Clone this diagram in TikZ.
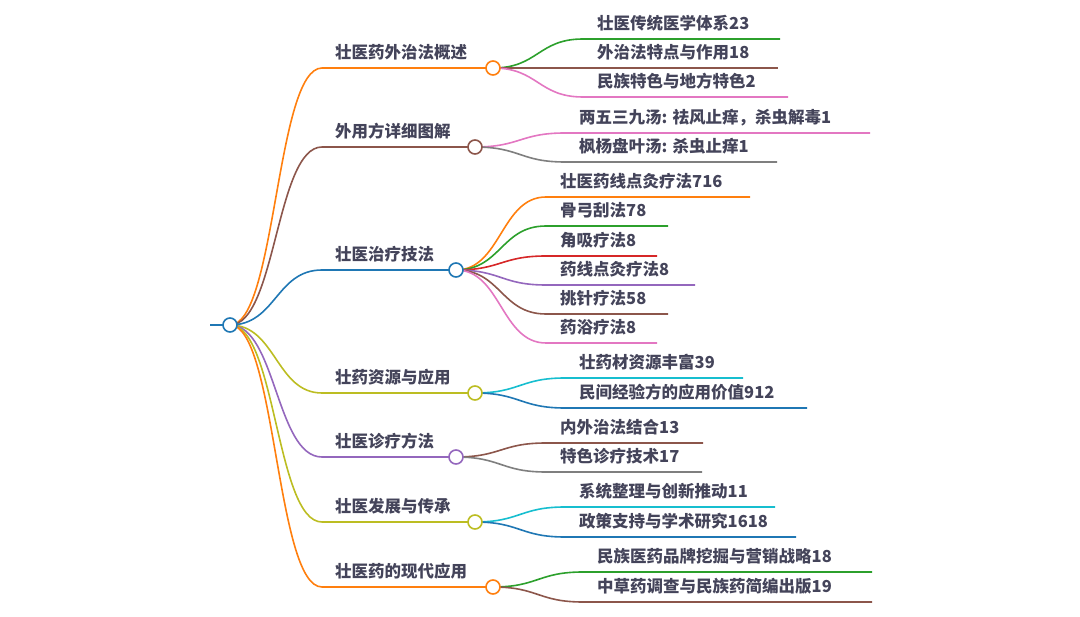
\documentclass[tikz,border=0pt]{standalone}
\usepackage{fontspec}
\newfontfamily\cjk{Noto Sans CJK SC}
\usetikzlibrary{backgrounds}
\definecolor{mBlue}{HTML}{1F77B4}
\definecolor{mOrange}{HTML}{FF7F0E}
\definecolor{mGreen}{HTML}{2CA02C}
\definecolor{mRed}{HTML}{D62728}
\definecolor{mPurple}{HTML}{9467BD}
\definecolor{mBrown}{HTML}{8C564B}
\definecolor{mPink}{HTML}{E377C2}
\definecolor{mGray}{HTML}{7F7F7F}
\definecolor{mOlive}{HTML}{BCBD22}
\definecolor{mCyan}{HTML}{17BECF}
\definecolor{txt}{HTML}{44445A}
\newcommand\mmtop[5]{%
  \node[dot=#4] (#1) at (#2,#3) {};
  \coordinate (#1s) at (322,#3);
  \node[lbl] (#1t) at (335,#3-9) {#5};
  \begin{scope}[on background layer]
    \draw[link=#4] (root.center) .. controls +(46,0) and +(-46,0) .. (#1s) -- (#1.center);
  \end{scope}}
\newcommand\mmkid[7]{%
  \coordinate (#2s) at (#3+90,#4);
  \coordinate (#2e) at (#5,#4);
  \node[lbl] (#2t) at (#3+104,#4-9) {#7};
  \begin{scope}[on background layer]
    \draw[link=#6] (#1.center) .. controls +(45,0) and +(-45,0) .. (#2s) -- (#2e);
  \end{scope}}
\begin{document}
\begin{tikzpicture}[x=1pt,y=-1pt,
  dot/.style={circle,draw=#1,fill=white,line width=1.6pt,minimum size=14pt,inner sep=0pt},
  lbl/.style={anchor=base west,inner sep=0pt,font=\cjk\bfseries\fontsize{16.5}{18}\selectfont,text=txt},
  link/.style={draw=#1,line width=1.6pt}]
\useasboundingbox (0,0) rectangle (1080,617);
\node[dot=mBlue] (root) at (230,325) {};
\coordinate (r0) at (210,325);
\begin{scope}[on background layer]
  \draw[link=mBlue] (r0) -- (root.center);
\end{scope}
\mmtop{a}{493}{68}{mOrange}{壮医药外治法概述}
\mmtop{b}{475}{147}{mBrown}{外用方详细图解}
\mmtop{c}{456}{270}{mBlue}{壮医治疗技法}
\mmtop{d}{475}{393}{mOlive}{壮药资源与应用}
\mmtop{e}{456}{457}{mPurple}{壮医诊疗方法}
\mmtop{f}{475}{522}{mOlive}{壮医发展与传承}
\mmtop{g}{493}{587}{mOrange}{壮医药的现代应用}
\mmkid{a}{a1}{493}{39}{780}{mGreen}{壮医传统医学体系23}
\mmkid{a}{a2}{493}{68}{778}{mBrown}{外治法特点与作用18}
\mmkid{a}{a3}{493}{97}{788}{mPink}{民族特色与地方特色2}
\mmkid{b}{b1}{475}{133}{870}{mPink}{两五三九汤: 祛风止痒，杀虫解毒1}
\mmkid{b}{b2}{475}{162}{777}{mGray}{枫杨盘叶汤: 杀虫止痒1}
\mmkid{c}{c1}{456}{197}{750}{mOrange}{壮医药线点灸疗法716}
\mmkid{c}{c2}{456}{226}{668}{mGreen}{骨弓刮法78}
\mmkid{c}{c3}{456}{256}{657}{mRed}{角吸疗法8}
\mmkid{c}{c4}{456}{285}{695}{mPurple}{药线点灸疗法8}
\mmkid{c}{c5}{456}{314}{668}{mBrown}{挑针疗法58}
\mmkid{c}{c6}{456}{343}{657}{mPink}{药浴疗法8}
\mmkid{d}{d1}{475}{378}{743}{mCyan}{壮药材资源丰富39}
\mmkid{d}{d2}{475}{408}{807}{mBlue}{民间经验方的应用价值912}
\mmkid{e}{e1}{456}{443}{703}{mBrown}{内外治法结合13}
\mmkid{e}{e2}{456}{472}{702}{mGray}{特色诊疗技术17}
\mmkid{f}{f1}{475}{507}{775}{mCyan}{系统整理与创新推动11}
\mmkid{f}{f2}{475}{537}{796}{mBlue}{政策支持与学术研究1618}
\mmkid{g}{g1}{493}{572}{872}{mGreen}{民族医药品牌挖掘与营销战略18}
\mmkid{g}{g2}{493}{602}{872}{mBrown}{中草药调查与民族药简编出版19}
\end{tikzpicture}
\end{document}
